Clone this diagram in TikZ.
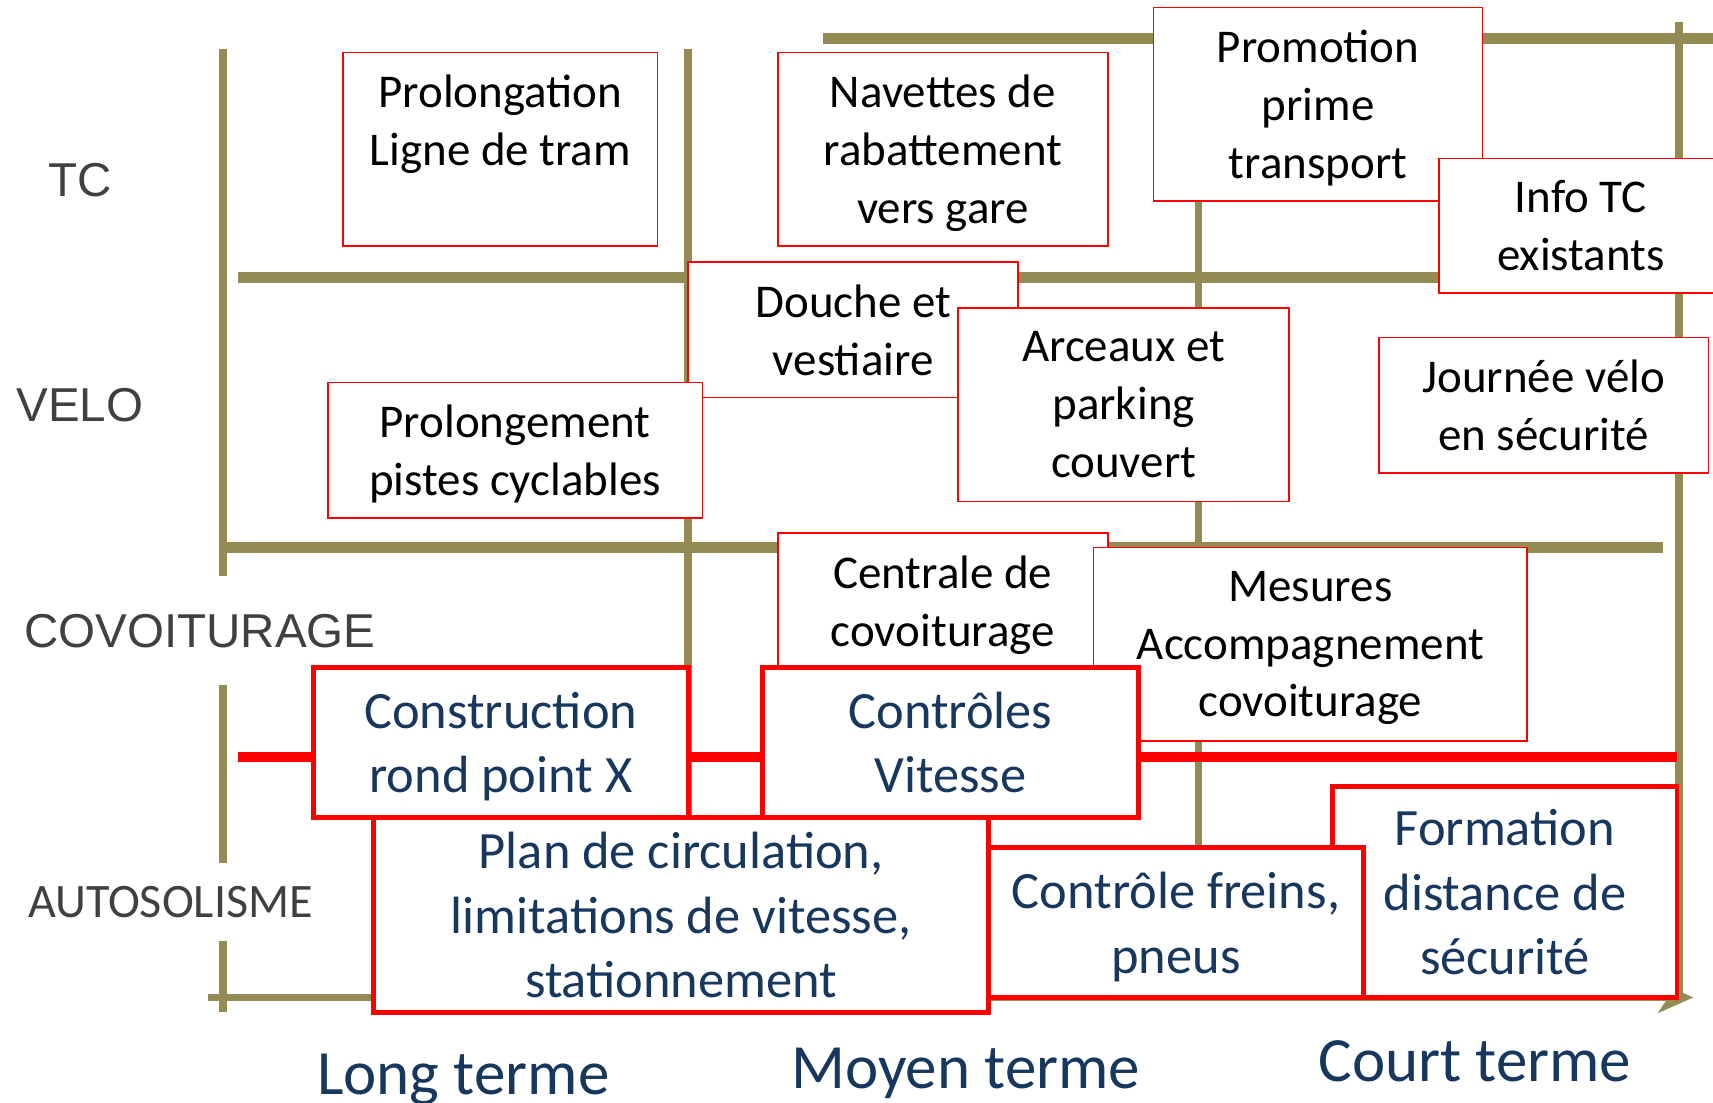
\documentclass[tikz,border=0pt]{standalone}
\usepackage{fontspec}
\setmainfont{Carlito}
\newfontfamily\arialfont{Liberation Sans}
\usepackage{tikz}
\usetikzlibrary{arrows.meta}
\usepackage{xcolor}
\definecolor{planolive}{RGB}{148,138,84}
\definecolor{planred}{RGB}{255,0,0}
\definecolor{plannavy}{RGB}{23,55,94}
\definecolor{plangray}{RGB}{64,64,64}

\begin{document}
\begin{tikzpicture}[x=1pt,y=-1pt,
  thinbox/.style={draw=planred,line width=1.5pt,fill=white,inner sep=0pt,align=center,text depth=0pt,font=\fontsize{43}{53}\selectfont},
  thickbox/.style={draw=planred,line width=4.5pt,fill=white,inner sep=0pt,align=center,text depth=0pt,text=plannavy,font=\fontsize{48}{59}\selectfont},
  axisv/.style={planolive,line width=7pt},
  axish/.style={planolive,line width=10pt},
  rowlabel/.style={text=plangray,font=\arialfont\fontsize{43.5}{52}\selectfont},
  termlabel/.style={text=plannavy,anchor=base,font=\fontsize{57.7}{70}\selectfont}]
  \useasboundingbox (0,0) rectangle (1568,1009);
  \clip (0,0) rectangle (1568,1009);

  \coordinate (O) at (204,913);
  \coordinate (X) at (1550,913);

  \draw[axish] (753,35) -- (1568,35);
  \draw[axish] (218,254) -- (1537,254);
  \draw[axish] (204,501) -- (1522,501);

  \draw[axisv] (204,45) -- (204,527);
  \draw[axisv] (204,627) -- (204,790);
  \draw[axisv] (204,861) -- (204,926);
  \draw[axisv] (630,45) -- (630,913);
  \draw[axisv] (1097,35) -- (1097,913);
  \draw[axisv] (1537,20) -- (1537,913);
  \draw[axisv,-{Stealth[length=32pt,width=28pt,inset=9pt]}] (190,913) -- (X);

  \draw[planred,line width=9pt] (218,693) -- (1535,693);

  \node[thinbox,text depth=53pt,minimum width=288pt,minimum height=177pt] (tram) at (458,136.5) {Prolongation\\Ligne de tram};
  \node[thinbox,minimum width=302pt,minimum height=177pt] (navettes) at (863,136.5) {Navettes de\\rabattement\\vers gare};
  \node[thinbox,minimum width=301pt,minimum height=177pt] (promo) at (1206.5,95.5) {Promotion\\prime\\transport};
  \node[thinbox,minimum width=260pt,minimum height=123pt] (infotc) at (1447,206.5) {Info TC\\existants};
  \node[thinbox,minimum width=302pt,minimum height=124pt] (douche) at (781,302) {Douche et\\vestiaire};
  \node[thinbox,minimum width=303pt,minimum height=177pt] (arceaux) at (1028.5,370.5) {Arceaux et\\parking\\couvert};
  \node[thinbox,minimum width=302pt,minimum height=124pt] (journee) at (1413,371) {Journée vélo\\en sécurité};
  \node[thinbox,minimum width=343pt,minimum height=124pt] (pistes) at (471.5,412) {Prolongement\\pistes cyclables};
  \node[thinbox,minimum width=302pt,minimum height=124pt] (centrale) at (863,550) {Centrale de\\covoiturage};
  \node[thinbox,minimum width=397pt,minimum height=177pt] (mesures) at (1199.5,589.5) {Mesures\\Accompagnement\\covoiturage};

  \node[thickbox,minimum width=343pt,minimum height=137pt] (rondpoint) at (458.5,679.5) {Construction\\rond point X};
  \node[thickbox,minimum width=344pt,minimum height=137pt] (controles) at (870,679.5) {Contrôles\\Vitesse};
  \node[thickbox,minimum width=563pt,minimum height=179pt] (plan) at (623.5,837.5) {Plan de circulation,\\limitations de vitesse,\\stationnement};
  \node[thickbox,minimum width=315pt,minimum height=193pt] (formation) at (1377.5,816.5) {Formation\\distance de\\sécurité};
  \node[thickbox,minimum width=343pt,minimum height=137pt] (freins) at (1076.5,844.5) {Contrôle freins,\\pneus};

  \node[rowlabel] (tc) at (73,165) {TC};
  \node[rowlabel] (velo) at (73,371) {VELO};
  \node[rowlabel] (covoit) at (183,578) {COVOITURAGE};
  \node[text=plangray,font=\fontsize{44}{53}\selectfont] (autosol) at (156,826) {AUTOSOLISME};

  \node[termlabel] (long) at (424,1002) {Long terme};
  \node[termlabel] (moyen) at (884,996) {Moyen terme};
  \node[termlabel] (court) at (1350,990) {Court terme};
\end{tikzpicture}
\end{document}
